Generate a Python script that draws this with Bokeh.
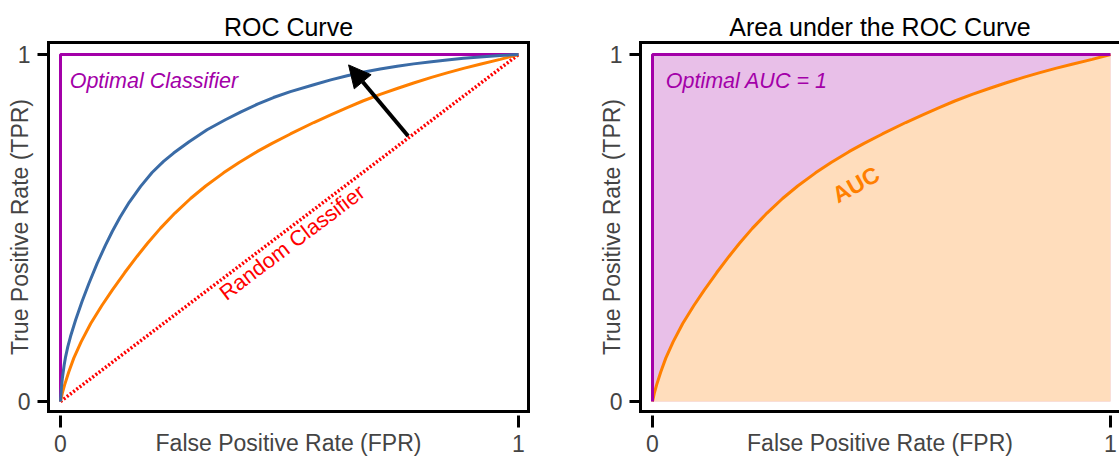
from bokeh.plotting import figure
from bokeh.models import LinearAxis, FixedTicker, Range1d, Arrow, NormalHead
from bokeh.layouts import row
from bokeh.core.properties import value
from bokeh.embed import file_html
from bokeh.resources import INLINE

# ---------------- data ----------------
tick_values = [0, 1]
tick_labels = ["0", "1"]

optimal_fpr = [0.0, 0.0, 1.0]
optimal_tpr = [0.0, 1.0, 1.0]

random_fpr = [0.0, 1.0]
random_tpr = [0.0, 1.0]

blue_fpr = [0.0, 0.002, 0.004, 0.008, 0.011, 0.016, 0.022, 0.033, 0.047, 0.062,
            0.080, 0.098, 0.113, 0.130, 0.150, 0.175, 0.200, 0.225, 0.247, 0.280,
            0.320, 0.360, 0.393, 0.430, 0.465, 0.502, 0.553, 0.590, 0.626, 0.660,
            0.698, 0.735, 0.771, 0.810, 0.844, 0.880, 0.916, 0.960, 1.0]
blue_tpr = [0.0, 0.040, 0.066, 0.105, 0.128, 0.158, 0.188, 0.235, 0.288, 0.340,
            0.398, 0.450, 0.490, 0.531, 0.574, 0.620, 0.660, 0.692, 0.716, 0.748,
            0.783, 0.812, 0.834, 0.857, 0.876, 0.893, 0.913, 0.927, 0.939, 0.949,
            0.958, 0.966, 0.973, 0.979, 0.984, 0.989, 0.993, 0.997, 1.0]

orange_fpr = [0.0, 0.004, 0.009, 0.018, 0.029, 0.045, 0.066, 0.090, 0.113, 0.140,
              0.167, 0.190, 0.218, 0.250, 0.284, 0.317, 0.356, 0.390, 0.429, 0.462,
              0.502, 0.553, 0.590, 0.626, 0.660, 0.698, 0.735, 0.771, 0.810, 0.844,
              0.880, 0.916, 0.960, 1.0]
orange_tpr = [0.0, 0.024, 0.048, 0.085, 0.125, 0.172, 0.225, 0.276, 0.321, 0.371,
              0.418, 0.456, 0.499, 0.543, 0.585, 0.621, 0.659, 0.689, 0.720, 0.744,
              0.771, 0.804, 0.826, 0.847, 0.866, 0.885, 0.902, 0.918, 0.934, 0.947,
              0.960, 0.972, 0.986, 1.0]

arrow_start = (0.759, 0.765)
arrow_end = (0.629, 0.970)

# ---------------- style ----------------
FONT = "Liberation Sans"
PURPLE = "#A300A8"
BLUE = "#3A6BA6"
ORANGE = "#FF7F00"
RED = "#FF0000"
PURPLE_FILL = "#E8BFE8"
PEACH_FILL = "#FFDDBC"

X0, Y0, Y1 = -0.0262, -0.0288, 1.0346


def border_axis():
    return LinearAxis(ticker=FixedTicker(ticks=[]), major_tick_out=0, major_tick_in=0,
                      minor_tick_out=0, minor_tick_in=0, major_label_standoff=0,
                      major_label_text_font_size="0px",
                      axis_line_width=3, axis_line_color="black", axis_line_cap="square")


def make_fig(width, title, x_end, mbr):
    p = figure(width=width, height=461, x_range=Range1d(X0, x_end), y_range=Range1d(Y0, Y1),
               x_axis_type=None, y_axis_type=None, output_backend="svg", toolbar_location=None,
               min_border_left=48, min_border_right=mbr, min_border_top=42, min_border_bottom=50,
               title=title)
    p.title.align = "center"
    p.title.text_font = FONT
    p.title.text_font_size = "25px"
    p.title.text_font_style = "normal"
    p.title.text_color = "black"
    p.title.standoff = 3
    p.outline_line_color = None

    yax = LinearAxis(ticker=FixedTicker(ticks=tick_values),
                     major_label_overrides=dict(zip(tick_values, tick_labels)),
                     axis_label="True Positive Rate (TPR)",
                     axis_label_text_font=FONT, axis_label_text_font_size="23px",
                     axis_label_text_font_style="normal", axis_label_standoff=-18,
                     major_label_text_font=FONT, major_label_text_font_size="23px",
                     major_label_standoff=7,
                     major_tick_out=11, major_tick_in=0, major_tick_line_width=3,
                     minor_tick_out=0, minor_tick_in=0,
                     axis_line_width=3, axis_line_color="black", axis_line_cap="square")
    p.add_layout(yax, "left")

    xax = LinearAxis(ticker=FixedTicker(ticks=tick_values),
                     major_label_overrides=dict(zip(tick_values, tick_labels)),
                     axis_label="False Positive Rate (FPR)",
                     axis_label_text_font=FONT, axis_label_text_font_size="23px",
                     axis_label_text_font_style="normal", axis_label_standoff=-25,
                     major_label_text_font=FONT, major_label_text_font_size="23px",
                     major_label_standoff=7,
                     major_tick_out=16, major_tick_in=-4, major_tick_line_width=3,
                     minor_tick_out=0, minor_tick_in=0,
                     axis_line_width=3, axis_line_color="black", axis_line_cap="square")
    p.add_layout(xax, "below")
    p.add_layout(border_axis(), "above")
    return p


# ---------------- left: ROC curve ----------------
p1 = make_fig(592, "ROC Curve", X0 + 480 / 458.0, 64)
p1.add_layout(border_axis(), "right")

p1.line(optimal_fpr, optimal_tpr, line_color=PURPLE, line_width=3)
p1.line(random_fpr, random_tpr, line_color=RED, line_width=3.5, line_dash="2 2")
p1.line(orange_fpr, orange_tpr, line_color=ORANGE, line_width=3)
p1.line(blue_fpr, blue_tpr, line_color=BLUE, line_width=3)
p1.add_layout(Arrow(end=NormalHead(size=22, fill_color="black", line_color="black"),
                    x_start=arrow_start[0], y_start=arrow_start[1],
                    x_end=arrow_end[0], y_end=arrow_end[1],
                    line_color="black", line_width=4))
p1.text(x=[0.02], y=[0.925], text=["Optimal Classifier"], text_color=PURPLE,
        text_font=value(FONT), text_font_style="italic", text_font_size="21.5px",
        text_align="left", text_baseline="alphabetic")
p1.text(x=[0.506], y=[0.458], text=["Random Classifier"], text_color=RED,
        text_font=value(FONT), text_font_style="normal", text_font_size="21.5px",
        text_align="center", text_baseline="middle", angle=37.1, angle_units="deg")

# ---------------- right: AUC ----------------
p2 = make_fig(527, "Area under the ROC Curve", X0 + 479 / 458.0, 0)
p2.varea(x=[0.0, 1.0], y1=[0.0, 0.0], y2=[1.0, 1.0], fill_color=PURPLE_FILL)
p2.varea(x=orange_fpr, y1=[0.0] * len(orange_fpr), y2=orange_tpr, fill_color=PEACH_FILL)
p2.line(orange_fpr, orange_tpr, line_color=ORANGE, line_width=3)
p2.line(optimal_fpr, optimal_tpr, line_color=PURPLE, line_width=3)
p2.text(x=[0.029], y=[0.925], text=["Optimal AUC = 1"], text_color=PURPLE,
        text_font=value(FONT), text_font_style="italic", text_font_size="21.5px",
        text_align="left", text_baseline="alphabetic")
p2.text(x=[0.444], y=[0.625], text=["AUC"], text_color=ORANGE,
        text_font=value(FONT), text_font_style="bold", text_font_size="23px",
        text_align="center", text_baseline="middle", angle=29, angle_units="deg")

layout = row(p1, p2)
open("out.html", "w").write(file_html(layout, INLINE))
